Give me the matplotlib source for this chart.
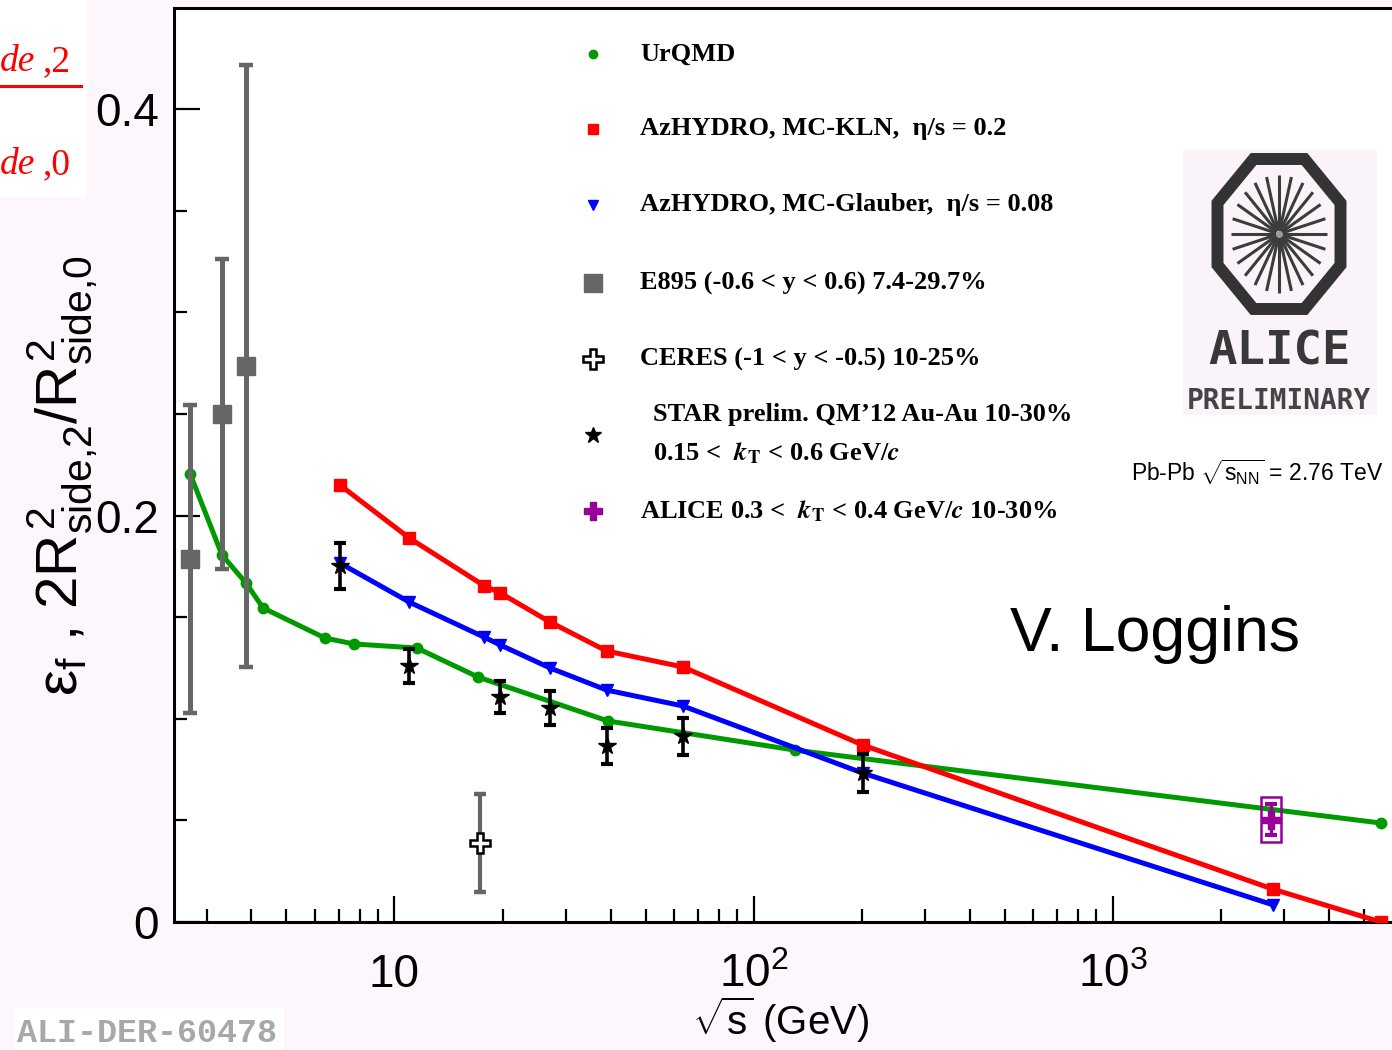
import numpy as np
import matplotlib
matplotlib.use("Agg")
import matplotlib.pyplot as plt
from matplotlib.ticker import LogLocator, NullFormatter, MultipleLocator
from matplotlib.patches import Rectangle, Polygon

# ---------------------------------------------------------------- data
# UrQMD transport model
urqmd_x = [2.70, 3.31, 3.86, 4.31, 6.41, 7.71, 11.55, 17.1, 39.3, 130.0, 5570.0]
urqmd_y = [0.2204, 0.1806, 0.1668, 0.1545, 0.1397, 0.1368, 0.1348, 0.1205, 0.0989, 0.0846, 0.0487]

# AzHYDRO, MC-KLN, eta/s = 0.2
kln_x = [7.05, 11.0, 17.75, 19.7, 27.1, 39.0, 63.5, 201.0, 2786.0, 5570.0]
kln_y = [0.2150, 0.1889, 0.1655, 0.1619, 0.1476, 0.1333, 0.1255, 0.0871, 0.0162, 0.0]

# AzHYDRO, MC-Glauber, eta/s = 0.08
glb_x = [7.05, 11.0, 17.75, 19.7, 27.1, 39.0, 63.5, 201.0, 2786.0]
glb_y = [0.1766, 0.1574, 0.1402, 0.1363, 0.1250, 0.1141, 0.1063, 0.0733, 0.0085]

# E895
e895_x = [2.70, 3.31, 3.86]
e895_y = [0.1786, 0.2500, 0.2736]
e895_err = [0.0760, 0.0763, 0.1480]

# CERES
ceres_x = [17.3]
ceres_y = [0.0389]
ceres_err = [0.0241]

# STAR preliminary (QM'12)
star_x = [7.05, 11.0, 19.7, 27.1, 39.0, 63.5, 201.0]
star_y = [0.1752, 0.1260, 0.1107, 0.1053, 0.0866, 0.0915, 0.0733]
star_err = [0.0113, 0.0084, 0.0081, 0.0084, 0.0089, 0.0091, 0.0093]

# ALICE Pb-Pb 2.76 TeV
alice_x = [2760.0]
alice_y = [0.0504]
alice_err = [0.0076]
alice_sys = [0.0110]

xtick_vals = [10, 100, 1000]
xtick_labels = ["10", r"$10^{2}$", r"$10^{3}$"]
ytick_vals = [0.0, 0.2, 0.4]
ytick_labels = ["0", "0.2", "0.4"]

legend_labels = [
    "UrQMD",
    "AzHYDRO, MC-KLN,  η/s = 0.2",
    "AzHYDRO, MC-Glauber,  η/s = 0.08",
    "E895 (-0.6 < y < 0.6) 7.4-29.7%",
    "CERES (-1 < y < -0.5) 10-25%",
    ["STAR prelim. QM’12 Au-Au 10-30%",
     r"0.15 <  $\mathbfit{k}_{\mathbf{T}}$ < 0.6 GeV/$\mathbfit{c}$"],
    r"ALICE 0.3 <  $\mathbfit{k}_{\mathbf{T}}$ < 0.4 GeV/$\mathbfit{c}$ 10-30%",
]

# ---------------------------------------------------------------- style
GREEN = "#009a00"
RED = "#ff0000"
BLUE = "#0000ff"
GRAY = "#666666"
PURPLE = "#990099"

plt.rcParams["mathtext.fontset"] = "custom"
plt.rcParams["mathtext.rm"] = "Liberation Sans"
plt.rcParams["mathtext.it"] = "Liberation Sans"
plt.rcParams["mathtext.bf"] = "Liberation Sans:bold"
plt.rcParams["font.family"] = ["Liberation Sans", "DejaVu Sans"]

W, H = 1392, 1050
fig = plt.figure(figsize=(W / 100, H / 100), dpi=100, facecolor="#fdf7fd")


def fx(px):
    return px / W


def fy(py):
    return 1 - py / H


ax = fig.add_axes([fx(174), fy(922), fx(1392) - fx(174), fy(8) - fy(922)])
ax.set_facecolor("white")
ax.set_xscale("log")
ax.set_xlim(2.434, 5986)
ax.set_ylim(0, 0.4497)

for side in ("left", "bottom", "top"):
    ax.spines[side].set_linewidth(2.2)
ax.spines["right"].set_visible(False)

ax.set_xticks(xtick_vals, labels=xtick_labels)
ax.xaxis.set_minor_locator(LogLocator(base=10, subs=np.arange(2, 10)))
ax.xaxis.set_minor_formatter(NullFormatter())
ax.set_yticks(ytick_vals, labels=ytick_labels)
ax.yaxis.set_minor_locator(MultipleLocator(0.05))
ax.tick_params(which="both", direction="in", top=False, right=False, width=1.6)
ax.tick_params(which="major", length=19, labelsize=33)
ax.tick_params(which="minor", length=9.5)
ax.tick_params(axis="x", which="major", pad=22)
ax.tick_params(axis="y", which="major", pad=11)

# ---------------------------------------------------------------- curves
ax.plot(urqmd_x, urqmd_y, color=GREEN, lw=3.6, marker="o", ms=7.5, zorder=3)
ax.plot(kln_x, kln_y, color=RED, lw=3.6, marker="s", ms=8.5, zorder=3)
ax.plot(glb_x, glb_y, color=BLUE, lw=3.6, marker="v", ms=9, zorder=3)

# ---------------------------------------------------------------- data points
ax.errorbar(e895_x, e895_y, yerr=e895_err, fmt="s", color=GRAY, ms=13,
            elinewidth=3.6, capsize=5, capthick=3.2, zorder=4)
ax.errorbar(ceres_x, ceres_y, yerr=ceres_err, fmt="none", ecolor=GRAY,
            elinewidth=3.0, capsize=4.5, capthick=3.2, zorder=4)
ax.plot(ceres_x, ceres_y, ls="none", marker="P", ms=14, mfc="white",
        mec="black", mew=1.8, zorder=5)
ax.errorbar(star_x, star_y, yerr=star_err, fmt="*", color="black", ms=13,
            elinewidth=2.6, capsize=4.5, capthick=3.0, zorder=5)

# ALICE: systematic box + statistical bar
lx = np.log10(alice_x[0])
box = Rectangle((10 ** (lx - 0.028), alice_y[0] - alice_sys[0]),
                10 ** (lx + 0.028) - 10 ** (lx - 0.028), 2 * alice_sys[0],
                fill=False, edgecolor=PURPLE, lw=1.8, zorder=5)
ax.add_patch(box)
ax.errorbar(alice_x, alice_y, yerr=alice_err, fmt="P", color=PURPLE, ms=13,
            elinewidth=2.4, capsize=4.5, capthick=3.0, zorder=6)

# ---------------------------------------------------------------- legend
serif = dict(family="Liberation Serif", weight="bold", size=19,
             math_fontfamily="stix")
leg_styles = [
    dict(marker="o", ms=6, color=GREEN),
    dict(marker="s", ms=7.5, color=RED),
    dict(marker="v", ms=7.5, color=BLUE),
    dict(marker="s", ms=12.5, color=GRAY),
    dict(marker="P", ms=14, mfc="white", mec="black", mew=1.8),
    dict(marker="*", ms=12, color="black"),
    dict(marker="P", ms=13, color=PURPLE),
]
leg_rows = [54, 129, 205, 283, 359, 435, 511]
for lab, sty, ry in zip(legend_labels, leg_styles, leg_rows):
    ax.plot([fx(593)], [fy(ry)], transform=fig.transFigure, ls="none",
            clip_on=False, zorder=6, **sty)
    if isinstance(lab, list):
        fig.text(fx(653), fy(ry - 20), lab[0], ha="left", va="center", **serif)
        fig.text(fx(653), fy(ry + 18), lab[1], ha="left", va="center", **serif)
    else:
        fig.text(fx(640), fy(ry), lab, ha="left", va="center", **serif)

# ---------------------------------------------------------------- labels
fig.text(fx(62), fy(476),
         r"$\varepsilon_{\rm f}$ , $2R^{2}_{\rm side{,}2}/R^{2}_{\rm side{,}0}$",
         rotation=90, ha="center", va="center", fontsize=42)
fig.text(fx(781), fy(1020), r"$\sqrt{\rm s}$ (GeV)", ha="center",
         va="center", fontsize=29)
fig.text(fx(1155), fy(635), "V. Loggins", ha="center", va="center",
         fontsize=45, color="black")
fig.text(fx(1383), fy(472), r"Pb-Pb $\sqrt{\rm s_{NN}}$ = 2.76 TeV",
         ha="right", va="center", fontsize=16.5)

# fraction fragment at the top-left corner
fig.patches.append(Rectangle((0, fy(197)), fx(87), fy(0) - fy(197),
                             transform=fig.transFigure, facecolor="white",
                             edgecolor="none", zorder=0))
red_it = dict(family="Liberation Serif", style="italic", size=27, color=RED)
red_rm = dict(family="Liberation Serif", size=27, color=RED)
for ty, sub in ((62, ",2"), (165, ",0")):
    fig.text(fx(0), fy(ty), "de", ha="left", va="center", **red_it)
    fig.text(fx(43), fy(ty), sub, ha="left", va="center", **red_rm)
fig.lines.append(plt.Line2D([0, fx(81)], [fy(86), fy(86)],
                            transform=fig.transFigure, color=RED, lw=2.2))

# figure id tag
fig.patches.append(Rectangle((fx(14), 0), fx(284) - fx(14), fy(1008),
                             transform=fig.transFigure, facecolor="white",
                             edgecolor="none", zorder=0))
fig.text(fx(17), fy(1034), "ALI-DER-60478", ha="left", va="center",
         family="Liberation Mono", weight="bold", size=24, color="#a8a8a8")

# ---------------------------------------------------------------- ALICE logo
lg = fig.add_axes([fx(1183), fy(415), fx(1377) - fx(1183), fy(150) - fy(415)])
lg.set_xlim(1183, 1377)
lg.set_ylim(415, 150)
lg.axis("off")
lg.add_patch(Rectangle((1183, 150), 194, 265, facecolor="#faf4fa",
                       edgecolor="none"))
cx, cy = 1279, 234
ang = np.deg2rad(22.5 + 45 * np.arange(8))
k = 1 / np.cos(np.deg2rad(22.5))
octx = cx + 61.5 * k * np.cos(ang)
octy = cy + 75.0 * k * np.sin(ang)
lg.add_patch(Polygon(np.c_[octx, octy], closed=True, fill=False,
                     edgecolor="#333333", lw=8.6, joinstyle="miter"))
for a in np.deg2rad(np.arange(0, 360, 15)):
    lg.plot([cx + 3 * np.cos(a), cx + 48 * np.cos(a)],
            [cy + 3.6 * np.sin(a), cy + 59 * np.sin(a)],
            color="#3c3c3c", lw=2.2, solid_capstyle="butt")
lg.plot([cx], [cy], marker="o", ms=5, color="#9a9a9a", mec="none")
lg.text(cx, 352, "ALICE", ha="center", va="center", family="DejaVu Sans Mono",
        weight="bold", size=34, color="#383838")
lg.text(cx, 401, "PRELIMINARY", ha="center", va="center",
        family="DejaVu Sans Mono", weight="bold", size=20, color="#444444")

fig.savefig("out.png", dpi=100, facecolor=fig.get_facecolor())
